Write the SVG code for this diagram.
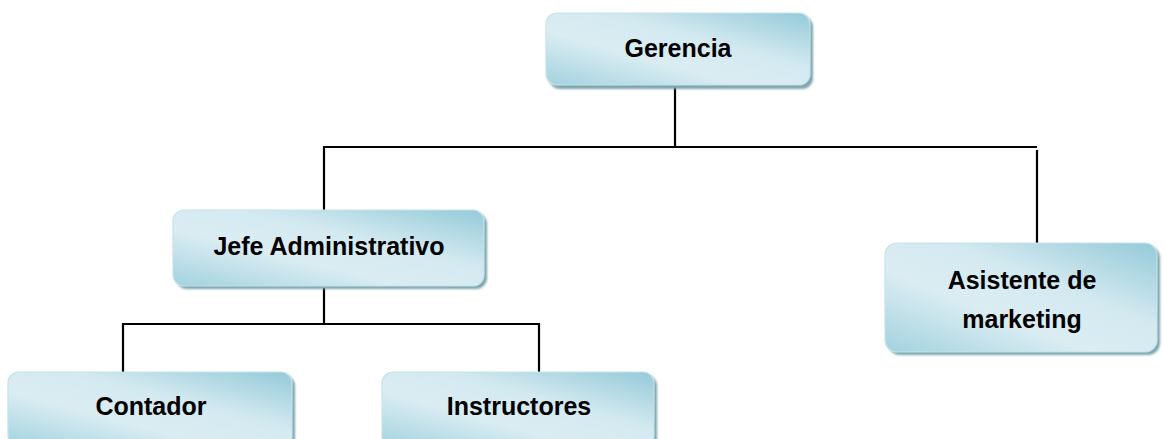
<svg xmlns="http://www.w3.org/2000/svg" width="1164" height="439" viewBox="0 0 1164 439">
<defs>
<linearGradient id="fill" x1="1" y1="0" x2="0" y2="1">
<stop offset="0" stop-color="#93cad8"/>
<stop offset="0.38" stop-color="#d3e9f0"/>
<stop offset="0.62" stop-color="#dbedf3"/>
<stop offset="1" stop-color="#a2d2de"/>
</linearGradient>
<filter id="blur" x="-5%" y="-5%" width="110%" height="110%"><feGaussianBlur stdDeviation="0.8"/></filter>
</defs>
<style>
.shadow{fill:#7fa5ae;filter:url(#blur)}
.box{fill:url(#fill);stroke:#c4e3eb;stroke-width:1.2}
.lbl{font-family:"Liberation Sans",Arial,sans-serif;font-weight:bold;font-size:25px;fill:#000;text-anchor:middle}
.conn{stroke:#000;stroke-width:2.2;fill:none}
</style>
<g id="connectors">
<line class="conn" x1="675" y1="86" x2="675" y2="147"/>
<polyline class="conn" points="324,210 324,147 1037,147"/>
<line class="conn" x1="1037" y1="150" x2="1037" y2="245"/>
<line class="conn" x1="324" y1="288" x2="324" y2="324"/>
<polyline class="conn" points="123,372 123,324 539,324 539,372"/>
</g>
<g id="gerencia">
<rect class="shadow" x="549" y="16" width="264" height="73" rx="11"/>
<rect class="box" x="546" y="13" width="264" height="72" rx="11"/>
<text class="lbl" x="678" y="57">Gerencia</text>
</g>
<g id="jefe">
<rect class="shadow" x="176" y="213" width="311" height="76" rx="11"/>
<rect class="box" x="173" y="210" width="311" height="76" rx="11"/>
<text class="lbl" x="329" y="255">Jefe Administrativo</text>
</g>
<g id="asistente">
<rect class="shadow" x="888" y="246" width="272" height="109" rx="12"/>
<rect class="box" x="885" y="243" width="272" height="109" rx="12"/>
<text class="lbl" x="1022" y="289">Asistente de</text>
<text class="lbl" x="1022" y="328">marketing</text>
</g>
<g id="contador">
<rect class="shadow" x="11" y="375" width="284" height="75" rx="11"/>
<rect class="box" x="8" y="372" width="284" height="75" rx="11"/>
<text class="lbl" x="151" y="415">Contador</text>
</g>
<g id="instructores">
<rect class="shadow" x="385" y="375" width="272" height="75" rx="11"/>
<rect class="box" x="382" y="372" width="272" height="75" rx="11"/>
<text class="lbl" x="519" y="415">Instructores</text>
</g>
</svg>
